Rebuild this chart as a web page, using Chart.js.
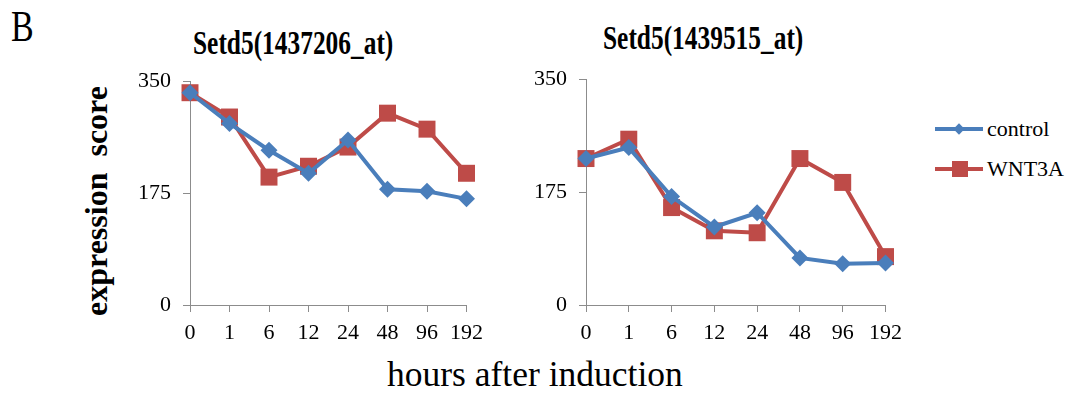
<!DOCTYPE html>
<html>
<head>
<meta charset="utf-8">
<script src="https://cdn.jsdelivr.net/npm/chart.js@4.4.1/dist/chart.umd.min.js"></script>
<style>
  body { margin: 0; background: #fff; font-family: "Liberation Serif", "Times New Roman", serif; }
  #wrap { position: relative; width: 1069px; height: 396px; overflow: hidden; }
  .txt { position: absolute; white-space: nowrap; color: #000; line-height: 1; }
  .tall { transform-origin: left top; transform: scaleY(1.3); }
  canvas { position: absolute; }
  .leg { position: absolute; left: 935px; height: 20px; }
  .leg .ln { position: absolute; left: 0; top: 8px; width: 48px; height: 4px; }
  .leg .mk { position: absolute; }
  .leg span { position: absolute; left: 52px; top: -1px; font-size: 22px; line-height: 1; }
</style>
</head>
<body>
<div id="wrap">
  <div class="txt tall" style="left:11px;top:5px;font-size:34px;">B</div>
  <div class="txt tall" id="t1" style="left:193px;top:27px;font-size:25.4px;font-weight:bold;"></div>
  <div class="txt tall" id="t2" style="left:603px;top:22px;font-size:25.4px;font-weight:bold;"></div>
  <div class="txt" style="left:96px;top:201px;font-size:32px;font-weight:bold;transform:translate(-50%,-50%) rotate(-90deg);">expression&nbsp; score</div>
  <div class="txt" style="left:387px;top:357px;font-size:35.5px;">hours after induction</div>
  <canvas id="c1" width="371" height="294" style="left:120px;top:56px;width:371px;height:294px;"></canvas>
  <canvas id="c2" width="394" height="296" style="left:516px;top:54px;width:394px;height:296px;"></canvas>
  <div class="leg" style="top:119px;">
    <div class="ln" style="background:#4a7ebb;"></div>
    <div class="mk" style="left:20px;top:6px;width:8px;height:8px;background:#4a7ebb;transform:rotate(45deg);"></div>
    <span id="l1"></span>
  </div>
  <div class="leg" style="top:159px;">
    <div class="ln" style="background:#be4b48;"></div>
    <div class="mk" style="left:17px;top:2px;width:16px;height:16px;background:#be4b48;"></div>
    <span id="l2"></span>
  </div>
</div>
<script>
const hours = ["0", "1", "6", "12", "24", "48", "96", "192"];
const seriesNames = ["control", "WNT3A"];
const titles = ["Setd5(1437206_at)", "Setd5(1439515_at)"];
const yTicks = [0, 175, 350];

const control1 = [332, 284, 242, 206, 258, 181, 178, 166];
const wnt3a1 = [332, 294, 200, 217, 247, 300, 275, 206];
const control2 = [227, 244, 168, 121, 143, 73, 64, 65];
const wnt3a2 = [227, 257, 151, 115, 112, 227, 190, 75];

document.getElementById("t1").textContent = titles[0];
document.getElementById("t2").textContent = titles[1];
document.getElementById("l1").textContent = seriesNames[0];
document.getElementById("l2").textContent = seriesNames[1];

const blue = "#4a7ebb";
const red = "#be4b48";
const axisGray = "#8c8c8c";
const tickFont = { family: "Liberation Serif", size: 22 };

function makeChart(id, ctrl, wnt) {
  new Chart(document.getElementById(id), {
    type: "line",
    data: {
      labels: hours,
      datasets: [
        {
          label: seriesNames[0],
          data: ctrl,
          borderColor: blue,
          backgroundColor: blue,
          borderWidth: 4,
          pointStyle: "rectRot",
          pointRadius: 8.5,
          pointBorderWidth: 0,
          clip: false,
          tension: 0,
        },
        {
          label: seriesNames[1],
          data: wnt,
          borderColor: red,
          backgroundColor: red,
          borderWidth: 4,
          pointStyle: "rect",
          pointRadius: 12,
          pointBorderWidth: 0,
          clip: false,
          tension: 0,
        },
      ],
    },
    options: {
      responsive: false,
      animation: false,
      layout: { padding: 0 },
      plugins: { legend: { display: false }, tooltip: { enabled: false } },
      scales: {
        x: {
          offset: false,
          grid: { drawOnChartArea: false, drawTicks: true, tickLength: 7, color: axisGray },
          border: { color: axisGray, width: 1 },
          ticks: { color: "#000", font: tickFont, padding: 8, maxRotation: 0, autoSkip: false },
          afterFit: (s) => { s.height = 45; },
        },
        y: {
          min: 0,
          max: 350,
          afterBuildTicks: (s) => { s.ticks = yTicks.map((v) => ({ value: v })); },
          grid: { drawOnChartArea: false, drawTicks: true, tickLength: 7, color: axisGray },
          border: { color: axisGray, width: 1 },
          ticks: { color: "#000", font: tickFont, padding: 12 },
          afterFit: (s) => { s.width = 70; },
        },
      },
    },
  });
}

makeChart("c1", control1, wnt3a1);
makeChart("c2", control2, wnt3a2);
</script>
</body>
</html>
